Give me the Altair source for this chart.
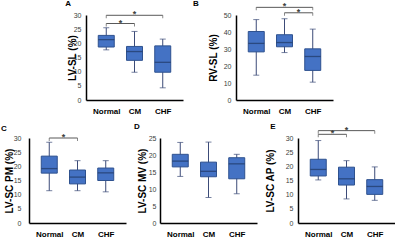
import altair as alt
import pandas as pd

CATS = ["Normal", "CM", "CHF"]

# Panel A: LV-SL (%)
A_MIN = [17.7, 9.8, 4.3]
A_Q1 = [18.7, 14.0, 9.8]
A_MED = [21.3, 17.1, 13.3]
A_Q3 = [22.8, 18.9, 19.1]
A_MAX = [25.5, 24.2, 21.5]

# Panel B: RV-SL (%)
B_MIN = [14.6, 27.9, 10.5]
B_Q1 = [28.3, 31.3, 17.4]
B_MED = [33.3, 33.8, 25.6]
B_Q3 = [40.3, 38.4, 30.1]
B_MAX = [47.3, 47.8, 41.7]

# Panel C: LV-SC PM (%)
C_MIN = [11.4, 11.4, 11.0]
C_Q1 = [17.6, 13.8, 15.0]
C_MED = [19.2, 16.2, 17.7]
C_Q3 = [23.6, 18.7, 19.4]
C_MAX = [28.5, 22.0, 22.0]

# Panel D: LV-SC MV (%)
D_MIN = [13.7, 7.5, 8.6]
D_Q1 = [16.5, 13.6, 13.0]
D_MED = [18.2, 15.2, 17.4]
D_Q3 = [20.2, 17.9, 19.2]
D_MAX = [23.7, 23.8, 20.2]

# Panel E: LV-SC AP (%)
E_MIN = [15.2, 8.5, 8.0]
E_Q1 = [16.6, 13.4, 10.1]
E_MED = [18.9, 15.6, 12.9]
E_Q3 = [22.5, 19.7, 15.3]
E_MAX = [29.1, 22.0, 19.8]

# significance brackets: (from index, to index, level)
A_SIG = [(0, 2, 29.9), (0, 1, 27.0)]
B_SIG = [(0, 2, 54.5), (1, 2, 51.3)]
C_SIG = [(0, 1, 30.0)]
D_SIG = []
E_SIG = [(0, 2, 32.6), (0, 1, 31.3)]

FONT = "Liberation Sans"
FILL = "#4472C4"
BORDER = "#2F528F"
WHISK = "#3C4B78"
MEDIAN = "#1F3864"
W, H = 97, 85

label_expr = "[" + ",".join("'" + c + "'" for c in CATS) + "][datum.value]"


def panel(letter, title, mins, q1s, meds, q3s, maxs, ymax, ystep, sig,
          ldx, ldy, lpad, tpad):
    df = pd.DataFrame({"pos": list(range(len(CATS))), "group": CATS,
                       "lo": mins, "q1": q1s, "med": meds, "q3": q3s, "hi": maxs})
    xs = alt.Scale(domain=[-0.54, 2.54], nice=False, zero=False)
    xax = alt.Axis(values=list(range(len(CATS))), labelExpr=label_expr, title=None,
                   grid=False, ticks=False, tickSize=0, labelFontWeight="bold",
                   labelFontSize=8, labelColor="#000000", labelPadding=7, labelFont=FONT,
                   domainColor="#000000", domainWidth=1.5)
    ys = alt.Scale(domain=[0, ymax], nice=False, zero=True)
    yax = alt.Axis(values=list(range(0, ymax + 1, ystep)), title=title, grid=False,
                   ticks=False, tickSize=0, labelFontSize=7, labelColor="#404040",
                   labelPadding=lpad, labelFont=FONT, titleFont=FONT, titleFontSize=10,
                   titleFontWeight="bold", titleColor="#000000", titlePadding=tpad,
                   domainColor="#000000", domainWidth=1.5)
    X = alt.X("pos:Q", scale=xs, axis=xax)

    def Y(f):
        return alt.Y(f + ":Q", scale=ys, axis=yax)

    base = alt.Chart(df)
    whisk = base.mark_rule(color=WHISK, strokeWidth=1).encode(x=X, y=Y("lo"), y2="hi:Q")
    box = base.mark_bar(size=16, color=FILL, stroke=BORDER, strokeWidth=1).encode(
        x=X, y=Y("q1"), y2="q3:Q")
    med = base.mark_tick(orient="horizontal", size=16, thickness=1.3, color=MEDIAN).encode(
        x=X, y=Y("med"))
    caplo = base.mark_tick(orient="horizontal", size=6, thickness=1, color=WHISK).encode(
        x=X, y=Y("lo"))
    caphi = base.mark_tick(orient="horizontal", size=6, thickness=1, color=WHISK).encode(
        x=X, y=Y("hi"))
    tag = alt.Chart(pd.DataFrame({"t": [letter]})).mark_text(
        align="left", baseline="middle", font=FONT, fontSize=8, fontWeight="bold",
        color="#000000").encode(text="t:N", x=alt.value(ldx), y=alt.value(ldy))
    layers = [whisk, box, med, caplo, caphi]
    if sig:
        sdf = pd.DataFrame({"a": [s[0] for s in sig], "b": [s[1] for s in sig],
                            "lvl": [s[2] for s in sig]})
        sdf["mid"] = (sdf["a"] + sdf["b"]) / 2
        sb = alt.Chart(sdf)
        line = sb.mark_rule(color="#595959", strokeWidth=1).encode(
            x=alt.X("a:Q", scale=xs, axis=xax), x2="b:Q", y=Y("lvl"))
        ta = sb.mark_tick(orient="vertical", size=3, thickness=1, color="#595959",
                          yOffset=1.5).encode(x=alt.X("a:Q", scale=xs, axis=xax), y=Y("lvl"))
        tb = sb.mark_tick(orient="vertical", size=3, thickness=1, color="#595959",
                          yOffset=1.5).encode(x=alt.X("b:Q", scale=xs, axis=xax), y=Y("lvl"))
        star = sb.mark_text(text="*", font=FONT, fontSize=9, fontWeight="bold",
                            color="#404040", baseline="middle", dy=-1).encode(
            x=alt.X("mid:Q", scale=xs, axis=xax), y=Y("lvl"))
        layers += [line, ta, tb, star]
    layers.append(tag)
    return alt.layer(*layers).properties(width=W, height=H)


pA = panel("A", "LV-SL (%)", A_MIN, A_Q1, A_MED, A_Q3, A_MAX, 30, 5, A_SIG,
           -20.7, -11, 5, -3.8)
pB = panel("B", "RV-SL (%)", B_MIN, B_Q1, B_MED, B_Q3, B_MAX, 50, 10, B_SIG,
           -43, -11, 5, 5.2)
pC = panel("C", "LV-SC PM (%)", C_MIN, C_Q1, C_MED, C_Q3, C_MAX, 30, 5, C_SIG,
           -28, -9.5, 8, -0.8)
pD = panel("D", "LV-SC MV (%)", D_MIN, D_Q1, D_MED, D_Q3, D_MAX, 25, 5, D_SIG,
           -26, -10.7, 4, 1.2)
pE = panel("E", "LV-SC AP (%)", E_MIN, E_Q1, E_MED, E_Q3, E_MAX, 30, 5, E_SIG,
           -27.7, -10.7, 5, 10.2)

spacer = alt.Chart(pd.DataFrame({"v": [0]})).mark_point(opacity=0, size=1).encode(
    x=alt.value(0), y=alt.value(0)).properties(width=21, height=H)

top = alt.hconcat(spacer, alt.hconcat(pA, pB, spacing=10), spacing=15)
bottom = alt.hconcat(pC, alt.hconcat(pD, pE, spacing=8), spacing=8)

chart = alt.vconcat(top, bottom, spacing=8).properties(
    padding={"left": 1, "top": 0, "right": 0, "bottom": 0},
    background="#ffffff"
).configure_view(stroke=None)

chart.save("out.html", embed_options={"renderer": "svg", "actions": False})
